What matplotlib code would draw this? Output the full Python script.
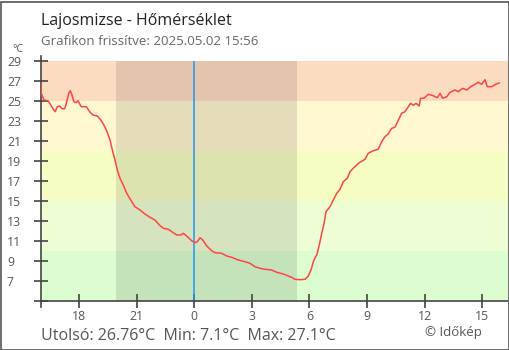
import matplotlib
matplotlib.use("Agg")
import matplotlib.pyplot as plt
from matplotlib.patches import Rectangle

plt.rcParams['font.family'] = ['Open Sans', 'DejaVu Sans']

# Hours elapsed since 16:00 of the previous day, and temperature (°C)
hours = [0.00, 0.03, 0.17, 0.38, 0.52, 0.69, 0.76, 0.86, 0.99, 1.11, 1.25, 1.33,
         1.46, 1.54, 1.63, 1.73, 1.85, 1.94, 2.03, 2.11, 2.38, 2.55, 2.72, 2.95,
         3.13, 3.24, 3.42, 3.61, 3.73, 3.87, 3.99, 4.13, 4.30, 4.48, 4.69, 4.91,
         5.17, 5.43, 5.69, 5.95, 6.18, 6.39, 6.65, 6.91, 7.08, 7.29, 7.43, 7.60,
         7.86, 8.04, 8.16, 8.30, 8.44, 8.65, 8.91, 9.08, 9.43, 9.69, 9.95, 10.29,
         10.64, 10.90, 11.16, 11.42, 11.68, 12.03, 12.29, 12.64, 12.90, 13.07,
         13.24, 13.51, 13.77, 13.94, 14.11, 14.20, 14.29, 14.38, 14.51, 14.64,
         14.76, 14.86, 15.07, 15.24, 15.42, 15.59, 15.76, 15.97, 16.11, 16.28,
         16.59, 16.89, 17.06, 17.32, 17.58, 17.76, 17.93, 18.10, 18.28, 18.45,
         18.63, 18.80, 18.97, 19.09, 19.27, 19.41, 19.55, 19.71, 19.79, 19.96,
         20.19, 20.45, 20.66, 20.80, 20.94, 21.15, 21.32, 21.58, 21.75, 21.98,
         22.19, 22.40, 22.62, 22.79, 22.97, 23.14, 23.26, 23.49, 23.70, 23.82,
         23.88]
temps = [26.74, 25.74, 25.07, 25.00, 24.57, 24.07, 23.90, 24.40, 24.47, 24.20,
         24.20, 24.70, 25.74, 26.00, 25.57, 24.90, 24.80, 25.00, 24.67, 24.40,
         24.40, 23.90, 23.57, 23.47, 23.07, 22.74, 22.07, 21.07, 20.07, 19.07,
         18.07, 17.24, 16.57, 15.74, 15.07, 14.40, 14.07, 13.67, 13.34, 13.07,
         12.57, 12.24, 12.14, 11.80, 11.57, 11.57, 11.74, 11.47, 11.00, 10.80,
         10.90, 11.30, 11.07, 10.47, 10.00, 9.80, 9.74, 9.47, 9.34, 9.07,
         8.90, 8.74, 8.40, 8.24, 8.14, 8.07, 7.84, 7.67, 7.47, 7.34,
         7.14, 7.10, 7.14, 7.47, 8.24, 8.90, 9.30, 9.57, 10.57, 11.74,
         12.74, 13.90, 14.40, 15.07, 15.74, 16.14, 16.90, 17.24, 17.90, 18.24,
         18.80, 19.14, 19.74, 20.00, 20.14, 20.90, 21.40, 21.67, 22.24, 22.34,
         23.07, 23.74, 23.90, 24.24, 24.74, 24.54, 24.74, 24.47, 25.24, 25.24,
         25.64, 25.50, 25.30, 25.74, 25.24, 25.40, 25.84, 26.07, 25.90, 26.24,
         26.07, 26.40, 26.64, 26.84, 26.64, 27.10, 26.40, 26.40, 26.64, 26.74,
         26.76]

tick_hours = [2, 5, 8, 11, 14, 17, 20, 23]
tick_labels = ['18', '21', '0', '3', '6', '9', '12', '15']
y_ticks = [29, 27, 25, 23, 21, 19, 17, 15, 13, 11, 9, 7, 5]
y_labels = ['29', '27', '25', '23', '21', '19', '17', '15', '13', '11', '9', '7', '']

# Temperature bands (lower, upper, colour)
band_edges = [(5, 10), (10, 15), (15, 20), (20, 25), (25, 30)]
band_colors = ['#dcfdd0', '#eefdd4', '#f5fdc3', '#fff7d0', '#fcdcc0']

sunset, sunrise = 3.92, 13.35
midnight = 8.0
x_end = 24.34

last_value, min_value, max_value = 26.76, 7.1, 27.1

fig = plt.figure(figsize=(5.10, 3.50), dpi=100)
ax = fig.add_axes([40.7 / 510, 49.3 / 350, (508 - 40.7) / 510, 240 / 350])

for (lo, hi), c in zip(band_edges, band_colors):
    ax.axhspan(lo, hi, color=c, lw=0, zorder=0)
ax.axvspan(sunset, sunrise, color='black', alpha=0.1, lw=0, zorder=1)
ax.axvline(midnight, color='#2196f3', lw=1.1, zorder=2)

ax.plot(hours, temps, color='#ff4444', lw=1.1, zorder=3)

ax.set_xlim(0, x_end)
ax.set_ylim(5, 29)

for s in ['top', 'right']:
    ax.spines[s].set_visible(False)
for s in ['left', 'bottom']:
    ax.spines[s].set_color('#444444')
    ax.spines[s].set_linewidth(1.2)
ax.spines['left'].set_bounds(4.4, 29.45)

ax.set_xticks(tick_hours)
ax.set_xticklabels(tick_labels)
ax.set_yticks(y_ticks)
ax.set_yticklabels(y_labels)
ax.tick_params(axis='both', direction='inout', length=10, width=1.2,
               color='#444444', labelcolor='#555555', labelsize=8.8)
ax.tick_params(axis='x', pad=2)
ax.tick_params(axis='y', pad=19.3)
for lab in ax.get_yticklabels():
    lab.set_horizontalalignment('left')

fig.text(40.7 / 510, 1 - 25 / 350, 'Lajosmizse - Hőmérséklet', fontsize=11.5,
         color='#222222', ha='left', va='baseline')
fig.text(40.7 / 510, 1 - 45 / 350, 'Grafikon frissítve: 2025.05.02 15:56',
         fontsize=9.5, color='#666666', ha='left', va='baseline')
fig.text(12.5 / 510, 1 - 52.5 / 350, '°C', fontsize=7.5, color='#555555',
         ha='left', va='baseline')
fig.text(40.7 / 510, 1 - 340 / 350,
         f'Utolsó: {last_value}°C  Min: {min_value}°C  Max: {max_value}°C',
         fontsize=11.5, color='#555555', ha='left', va='baseline')
fig.text(425 / 510, 1 - 336 / 350, '© Időkép', fontsize=9.5, color='#555555',
         ha='left', va='baseline')

fig.patches.append(Rectangle((0.5 / 510, 0.5 / 350), 508.5 / 510, 348 / 350,
                             transform=fig.transFigure, fill=False,
                             edgecolor='#555555', lw=1.2))

fig.savefig('out.png', dpi=100)
